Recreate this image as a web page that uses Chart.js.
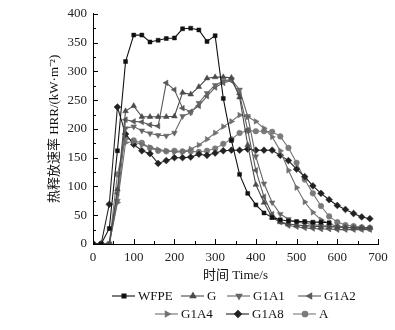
<!DOCTYPE html>
<html>
<head>
<meta charset="utf-8">
<script src="https://cdn.jsdelivr.net/npm/chart.js@4.4.1/dist/chart.umd.min.js"></script>
<style>
  html, body { margin: 0; padding: 0; background: #fff; }
  #hrr { display: block; }
</style>
</head>
<body>
<canvas id="hrr" width="395" height="330"></canvas>
<script>
// time axis (s), one reading every 20 s
var timeS = [0, 20, 40, 60, 80, 100, 120, 140, 160, 180, 200, 220, 240, 260, 280, 300, 320,
    340, 360, 380, 400, 420, 440, 460, 480, 500, 520, 540, 560, 580, 600, 620, 640, 660, 680];

// HRR values (kW/m2)
var wfpe = [0, 0, 27, 162, 317, 363, 363, 351, 354, 357, 358, 374, 375, 372, 352, 362, 253,
    180, 121, 88, 68, 54, 46, 42, 40, 39, 39, 38, 38, 37];
var g = [0, 0, 0, 95, 231, 240, 221, 221, 221, 221, 222, 263, 260, 273, 288, 290, 290,
    289, 255, 172, 103, 72, 46, 38, 35, 33, 32, 31, 30, 30, 29, 29, 28, 28, 28];
var g1a1 = [0, 0, 0, 75, 201, 204, 197, 192, 189, 188, 193, 222, 228, 245, 262, 276, 283,
    286, 268, 222, 152, 105, 72, 52, 43, 38, 36, 34, 32, 31, 30, 29, 28, 28, 27];
var g1a2 = [0, 0, 0, 88, 216, 213, 212, 207, 205, 280, 268, 236, 230, 240, 257, 272, 280,
    284, 260, 198, 128, 82, 52, 38, 32, 30, 28, 27, 26, 26, 25, 25, 25, 25, 25];
var g1a4 = [0, 0, 0, 72, 176, 178, 172, 168, 164, 162, 160, 160, 165, 172, 182, 193, 204,
    213, 224, 221, 213, 201, 186, 162, 128, 98, 73, 55, 42, 35, 31, 29, 28, 27, 27];
var g1a8 = [0, 0, 69, 238, 191, 173, 162, 157, 140, 145, 150, 150, 151, 156, 154, 158, 162,
    163, 163, 165, 163, 163, 163, 154, 145, 130, 117, 101, 88, 77, 67, 60, 53, 47, 44];
var a = [0, 0, 0, 121, 184, 180, 176, 167, 162, 161, 162, 161, 161, 160, 162, 166, 174,
    182, 193, 197, 196, 196, 195, 187, 167, 141, 112, 88, 66, 48, 38, 33, 31, 29, 28];

var xTicks = [0, 100, 200, 300, 400, 500, 600, 700];
var yTicks = [0, 50, 100, 150, 200, 250, 300, 350, 400];

var serif = "'Liberation Serif', 'Noto Sans CJK SC', serif";

function pairs(vals) {
    return vals.map(function (v, i) { return { x: timeS[i], y: v }; });
}

function series(label, vals, color, style, rot, r) {
    return {
        label: label,
        data: pairs(vals),
        borderColor: color,
        backgroundColor: color,
        pointBackgroundColor: color,
        pointBorderColor: color,
        borderWidth: 1.1,
        pointStyle: style,
        rotation: rot,
        pointRadius: r,
        pointBorderWidth: 0.5,
        tension: 0
    };
}

// draws inward ticks, the y title and the line+marker legend
var decorPlugin = {
    id: 'decor',
    afterDraw: function (chart) {
        var ctx = chart.ctx;
        var xs = chart.scales.x, ys = chart.scales.y;
        var area = chart.chartArea;
        ctx.save();
        ctx.strokeStyle = '#000';
        ctx.lineWidth = 1;
        ctx.beginPath();
        for (var v = 0; v <= 700; v += 50) {
            var px = Math.round(xs.getPixelForValue(v)) + 0.5;
            var len = (v % 100 === 0) ? 5 : 3;
            ctx.moveTo(px, area.bottom);
            ctx.lineTo(px, area.bottom - len);
        }
        for (var w = 0; w <= 400; w += 25) {
            var py = Math.round(ys.getPixelForValue(w)) + 0.5;
            var l2 = (w % 50 === 0) ? 5 : 3;
            ctx.moveTo(area.left, py);
            ctx.lineTo(area.left + l2, py);
        }
        ctx.stroke();

        // y axis title
        ctx.fillStyle = '#111';
        ctx.font = '13px ' + serif;
        ctx.textAlign = 'center';
        ctx.textBaseline = 'middle';
        ctx.save();
        ctx.translate(55, (area.top + area.bottom) / 2);
        ctx.rotate(-Math.PI / 2);
        ctx.fillText('热释放速率 HRR/(kW·m⁻²)', 0, 0);
        ctx.restore();

        // x axis title
        ctx.fillText('时间 Time/s', (area.left + area.right) / 2, 276);

        // legend
        var rows = [
            [0, 112, 296], [1, 181, 296], [2, 227, 296], [3, 298, 296],
            [4, 155, 314], [5, 226, 314], [6, 293, 314]
        ];
        ctx.textAlign = 'left';
        rows.forEach(function (row) {
            var ds = chart.data.datasets[row[0]];
            var x0 = row[1], y0 = row[2];
            ctx.strokeStyle = ds.borderColor;
            ctx.fillStyle = ds.borderColor;
            ctx.lineWidth = 1.1;
            ctx.beginPath();
            ctx.moveTo(x0, y0);
            ctx.lineTo(x0 + 23, y0);
            ctx.stroke();
            Chart.helpers.drawPoint(ctx, {
                pointStyle: ds.pointStyle,
                radius: ds.pointRadius,
                rotation: ds.rotation,
                borderWidth: 0.5
            }, x0 + 12, y0);
            ctx.fillStyle = '#111';
            ctx.fillText(ds.label, x0 + 26, y0 + 1);
        });
        ctx.restore();
    }
};

var config = {
    type: 'line',
    data: {
        datasets: [
            series('WFPE', wfpe, '#111111', 'rect', 0, 2.8),
            series('G', g, '#4a4a4a', 'triangle', 0, 3.3),
            series('G1A1', g1a1, '#666666', 'triangle', 180, 3.3),
            series('G1A2', g1a2, '#5a5a5a', 'triangle', 270, 3.3),
            series('G1A4', g1a4, '#707070', 'triangle', 90, 3.3),
            series('G1A8', g1a8, '#222222', 'rectRot', 0, 3.4),
            series('A', a, '#7a7a7a', 'circle', 0, 2.8)
        ]
    },
    options: {
        responsive: false,
        animation: false,
        layout: {
            padding: { top: 11, right: 17, bottom: 0, left: 0 }
        },
        plugins: {
            legend: { display: false },
            tooltip: { enabled: false }
        },
        scales: {
            x: {
                type: 'linear',
                min: 0,
                max: 700,
                afterFit: function (scale) { scale.height = 86; },
                afterBuildTicks: function (scale) {
                    scale.ticks = xTicks.map(function (v) { return { value: v }; });
                },
                grid: { display: false, drawTicks: false },
                border: { display: true, color: '#000', width: 1 },
                ticks: {
                    padding: 6,
                    color: '#222',
                    maxRotation: 0,
                    font: { family: serif, size: 13 }
                }
            },
            y: {
                type: 'linear',
                min: 0,
                max: 400,
                afterFit: function (scale) { scale.width = 93; },
                afterBuildTicks: function (scale) {
                    scale.ticks = yTicks.map(function (v) { return { value: v }; });
                },
                grid: { display: false, drawTicks: false },
                border: { display: true, color: '#000', width: 1 },
                ticks: {
                    padding: 6,
                    color: '#222',
                    font: { family: serif, size: 13 }
                }
            }
        }
    },
    plugins: [decorPlugin]
};

new Chart(document.getElementById('hrr'), config);
</script>
</body>
</html>
